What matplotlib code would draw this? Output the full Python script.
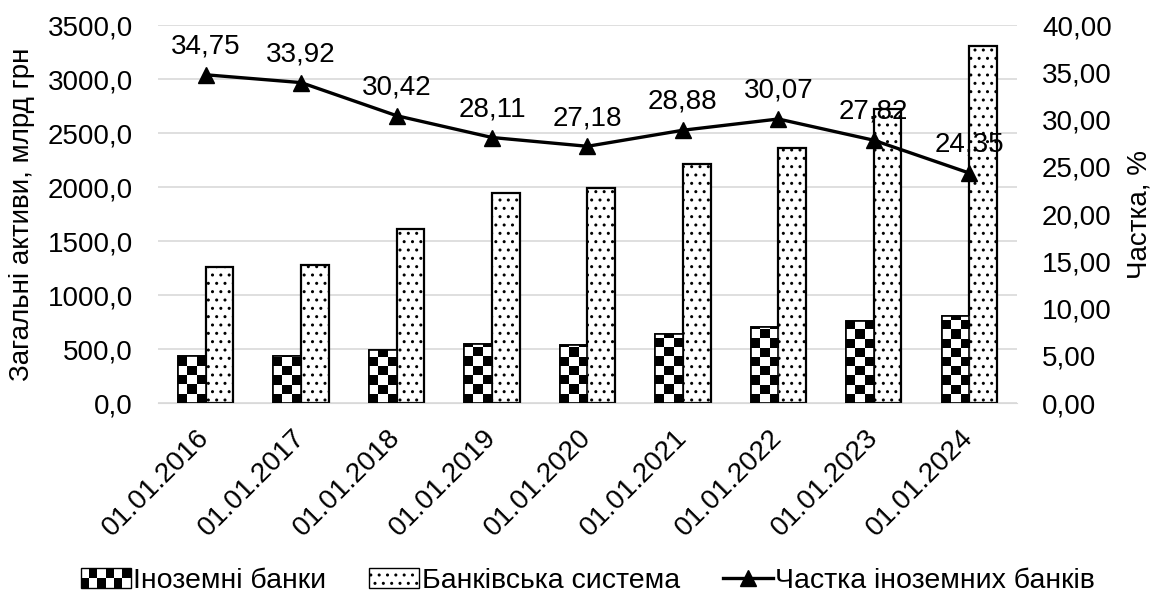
import numpy as np
import matplotlib
matplotlib.use("Agg")
from matplotlib import pyplot as plt
from matplotlib.patches import Rectangle
from matplotlib.lines import Line2D
from matplotlib.legend_handler import HandlerBase
from matplotlib.ticker import FuncFormatter

dates = ["01.01.2016", "01.01.2017", "01.01.2018", "01.01.2019", "01.01.2020",
         "01.01.2021", "01.01.2022", "01.01.2023", "01.01.2024"]
foreign = [436, 433, 490, 547, 541, 640, 709, 757, 805]
system = [1256, 1277, 1611, 1944, 1990, 2217, 2359, 2720, 3306]
share = [34.75, 33.92, 30.42, 28.11, 27.18, 28.88, 30.07, 27.82, 24.35]

plt.rcParams['font.family'] = ['Liberation Sans', 'DejaVu Sans']
plt.rcParams['hatch.linewidth'] = 1.0
fs = 20

fig = plt.figure(figsize=(11.53, 5.99), dpi=100)
ax = fig.add_axes([0.137, 0.327, 0.745, 0.631])
ax2 = ax.twinx()

x = np.arange(len(dates))
w = 0.29

b1 = ax.bar(x - w/2, foreign, w, color="white", edgecolor="black", linewidth=1.2, zorder=2)
b2 = ax.bar(x + w/2, system, w, color="white", edgecolor="black", linewidth=1.6,
            hatch="..", zorder=2)

# checker fill for foreign banks
cell = 85.0
for r in b1:
    x0, h, bw = r.get_x(), r.get_height(), r.get_width()
    rows = int(np.ceil(h / cell))
    grid = np.indices((rows, 3)).sum(axis=0) % 2
    im = ax.imshow(grid[::-1], cmap="gray", interpolation="nearest", aspect="auto",
                   extent=(x0, x0 + bw, 0, rows * cell), zorder=2.5)
    im.set_clip_path(r)
    ax.add_patch(Rectangle((x0, 0), bw, h, fill=False, edgecolor="black",
                           linewidth=1.2, zorder=3))

ax.set_xlim(-0.5, len(dates) - 0.5)
ax.set_ylim(0, 3500)
ax.set_yticks(np.arange(0, 3501, 500))
ax.yaxis.set_major_formatter(FuncFormatter(lambda v, p: f"{v:.1f}".replace(".", ",")))
ax.set_xticks(x)
ax.set_xticklabels(dates, rotation=45, ha="right", va="center", rotation_mode="anchor")
ax.grid(axis="y", color="#d9d9d9", linewidth=1.2, zorder=0)
ax.set_axisbelow(True)
ax.set_ylabel("Загальні активи, млрд грн", fontsize=fs, labelpad=9)

ax2.plot(x, share, color="black", linewidth=2.4, marker="^", markersize=11, zorder=5)
for xi, s in zip(x, share):
    ax2.annotate(f"{s:.2f}".replace(".", ","), (xi, s), xytext=(0, 11),
                 textcoords="offset points", ha="center", va="bottom", fontsize=fs)
ax2.set_ylim(0, 40)
ax2.set_yticks(np.arange(0, 40.1, 5))
ax2.yaxis.set_major_formatter(FuncFormatter(lambda v, p: f"{v:.2f}".replace(".", ",")))
ax2.set_ylabel("Частка, %", fontsize=fs, labelpad=11)

for a in (ax, ax2):
    for sp in a.spines.values():
        sp.set_visible(False)
    a.tick_params(length=0, labelsize=fs)
ax.tick_params(axis="y", pad=18)
ax2.tick_params(axis="y", pad=18)
ax.spines["bottom"].set_visible(True)
ax.spines["bottom"].set_color("#d9d9d9")
ax.tick_params(axis="x", pad=22)


class CheckerHandler(HandlerBase):
    def create_artists(self, legend, orig_handle, xdescent, ydescent, width, height,
                       fontsize, trans):
        arts = [Rectangle((-xdescent, -ydescent), width, height, facecolor="white",
                          edgecolor="black", linewidth=1, transform=trans)]
        nx, ny = 6, 2
        cw, ch = width / nx, height / ny
        for i in range(nx):
            for j in range(ny):
                if (i + j) % 2 == 0:
                    arts.append(Rectangle((-xdescent + i * cw, -ydescent + j * ch), cw, ch,
                                          facecolor="black", edgecolor="none",
                                          transform=trans))
        return arts


h1 = Rectangle((0, 0), 1, 1, facecolor="white", edgecolor="black")
h2 = Rectangle((0, 0), 1, 1, facecolor="white", edgecolor="black", hatch="..", linewidth=1)
h3 = Line2D([], [], color="black", linewidth=2.4, marker="^", markersize=11)
fig.legend([h1, h2, h3], ["Іноземні банки", "Банківська система", "Частка іноземних банків"],
           handler_map={h1: CheckerHandler()}, loc="lower center", ncol=3,
           frameon=False, fontsize=20.5, bbox_to_anchor=(0.51, -0.035),
           handlelength=1.75, handletextpad=0.1, columnspacing=1.5)

fig.savefig("out.png", dpi=100)
